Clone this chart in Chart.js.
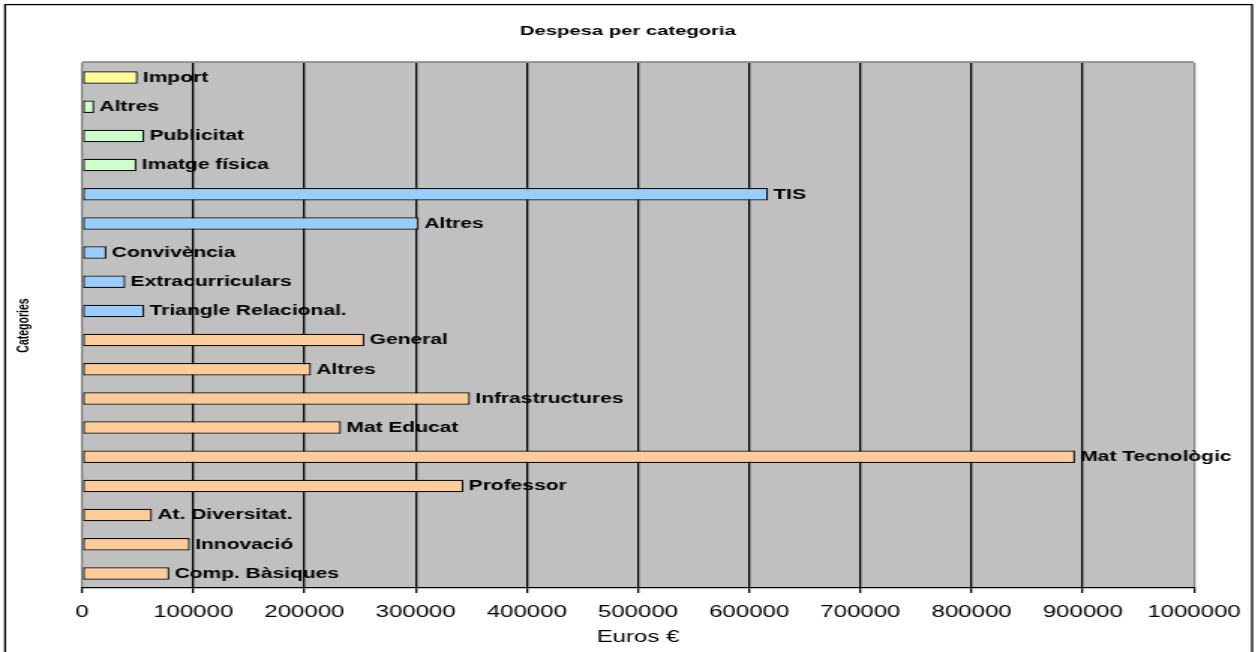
<!DOCTYPE html>
<html>
<head>
<meta charset="utf-8">
<title>Despesa per categoria</title>
<script src="https://cdn.jsdelivr.net/npm/chart.js@4/dist/chart.umd.min.js"></script>
<style>
  html, body { margin: 0; padding: 0; background: #fff; }
  /* drawn at a narrower size and stretched wide, like the spreadsheet export */
  #chart { display: block; width: 1258px !important; height: 652px !important; }
</style>
</head>
<body>
<canvas id="chart" width="839" height="652" style="width:1258px;height:652px"></canvas>
<script>
// categories, top to bottom
const categories = [
  'Import', 'Altres', 'Publicitat', 'Imatge física',
  'TIS', 'Altres', 'Convivència', 'Extracurriculars', 'Triangle Relacional.',
  'General', 'Altres', 'Infrastructures', 'Mat Educat', 'Mat Tecnològic',
  'Professor', 'At. Diversitat.', 'Innovació', 'Comp. Bàsiques'
];
// spending in euros
const despesa = [
  50000, 11000, 56000, 49000,
  617000, 303000, 22000, 39000, 56000,
  254000, 206000, 349000, 233000, 893000,
  343000, 63000, 97000, 78500
];
// block each category belongs to (0 = centre, 1 = relacions, 2 = imatge, 3 = import)
const bloc = [3, 2, 2, 2, 1, 1, 1, 1, 1, 0, 0, 0, 0, 0, 0, 0, 0, 0];
const euroTicks = [0, 100000, 200000, 300000, 400000, 500000, 600000, 700000, 800000, 900000, 1000000];

const blocColors = ['#ffcc99', '#99ccff', '#ccffcc', '#ffff99'];
const FONT = '"Liberation Sans", Arial, sans-serif';
Chart.defaults.font.family = FONT;
Chart.defaults.color = '#000';

const decor = {
  id: 'decor',
  beforeDraw(chart) {
    const {ctx, chartArea: a} = chart;
    ctx.save();
    // plot background starts a pixel above the first category band
    ctx.fillStyle = '#c0c0c0';
    ctx.fillRect(a.left, a.top - 1, a.right - a.left, a.bottom - a.top + 1);
    ctx.strokeStyle = '#000';
    ctx.lineWidth = 1.3;
    ctx.strokeRect(3.4, 4.6, 831.6, 660);
    ctx.fillStyle = '#000';
    ctx.font = 'bold 13.5px ' + FONT;
    ctx.textAlign = 'center';
    ctx.textBaseline = 'middle';
    ctx.fillText('Despesa per categoria', 418.8, 31);
    ctx.restore();
  },
  beforeDatasetsDraw(chart) {
    const {ctx, chartArea: a} = chart;
    ctx.save();
    ctx.strokeStyle = '#808080';
    ctx.lineWidth = 1.3;
    ctx.beginPath();
    ctx.moveTo(a.left, a.top - 1);
    ctx.lineTo(a.right, a.top - 1);
    ctx.stroke();
    ctx.restore();
  },
  afterDatasetsDraw(chart) {
    const {ctx} = chart;
    const bars = chart.getDatasetMeta(0).data;
    ctx.save();
    ctx.fillStyle = '#000';
    ctx.font = 'bold 14px ' + FONT;
    ctx.textAlign = 'left';
    ctx.textBaseline = 'middle';
    bars.forEach((bar, i) => {
      ctx.fillText(categories[i], bar.x + 3.5, bar.y + 0.5);
    });
    ctx.restore();
  }
};

new Chart(document.getElementById('chart'), {
  type: 'bar',
  data: {
    labels: categories,
    datasets: [{
      data: despesa,
      backgroundColor: bloc.map(b => blocColors[b]),
      borderColor: '#111',
      borderWidth: 1.3,
      borderSkipped: false,
      barPercentage: 0.43,
      categoryPercentage: 1
    }]
  },
  options: {
    indexAxis: 'y',
    responsive: false,
    animation: false,
    devicePixelRatio: 1,
    layout: { padding: { top: 63, right: 42.7, bottom: 0, left: 0 } },
    plugins: {
      legend: { display: false },
      tooltip: { enabled: false },
      title: { display: false }
    },
    scales: {
      x: {
        type: 'linear',
        min: 0,
        max: 1000000,
        afterBuildTicks: scale => { scale.ticks = euroTicks.map(v => ({ value: v })); },
        afterFit: scale => { scale.height = 64; },
        ticks: {
          font: { size: 16 },
          padding: 10,
          maxRotation: 0,
          autoSkip: false,
          callback: v => String(v)
        },
        grid: {
          color: c => (c.tick && (c.tick.value === 0 || c.tick.value === 1000000)) ? '#808080' : '#000',
          lineWidth: 1.3,
          tickLength: 5,
          tickColor: '#000'
        },
        border: { color: '#000', width: 1.3 },
        title: {
          display: true,
          text: 'Euros €',
          font: { size: 16 },
          padding: { top: 0, bottom: 4.4 }
        }
      },
      y: {
        afterFit: scale => { scale.width = 54.7; },
        ticks: { display: false },
        grid: { display: false },
        border: { display: false },
        title: {
          display: true,
          text: 'Categories',
          font: { size: 10.5, weight: 'bold' },
          padding: { top: 9.5, bottom: 0 }
        }
      }
    }
  },
  plugins: [decor]
});
</script>
</body>
</html>
